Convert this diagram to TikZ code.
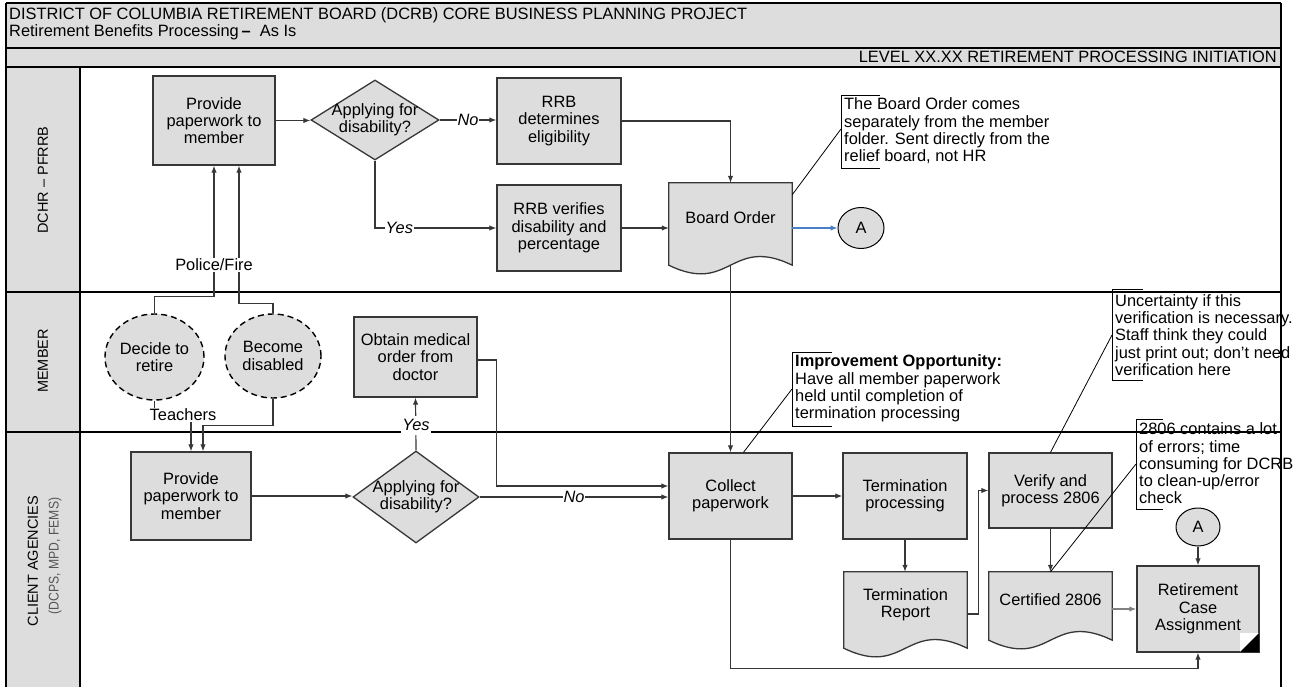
\documentclass[tikz,border=0pt]{standalone}
\usepackage{fontspec}
\setmainfont{Liberation Sans}
\newfontfamily\narrowsans[FakeStretch=0.87]{Liberation Sans}
\usetikzlibrary{shapes.geometric,arrows.meta,calc}
\definecolor{boxgray}{RGB}{221,221,221}
\definecolor{linegray}{RGB}{55,55,55}
\definecolor{lblue}{RGB}{74,126,199}
\definecolor{subgray}{RGB}{85,85,85}
\begin{document}
\begin{tikzpicture}[x=1pt,y=-1pt,
 font=\fontsize{16.4}{17.3}\selectfont,
 proc/.style={draw=linegray,line width=1.3pt,fill=boxgray,align=center,inner sep=0pt},
 dia/.style={diamond,draw=linegray,line width=1.3pt,fill=boxgray,inner sep=0pt},
 txt/.style={align=center,inner sep=0pt},
 ev/.style={ellipse,draw=black,line width=1.4pt,dash pattern=on 6pt off 4pt,fill=boxgray,inner sep=0pt,align=center},
 conn/.style={ellipse,draw=black,line width=1pt,fill=boxgray,inner sep=0pt},
 docbox/.style={draw=none,inner sep=0pt},
 docshape/.style={draw=linegray,line width=1.3pt,fill=boxgray},
 arr/.style={draw=linegray,line width=1.2pt,-{Latex[length=7pt,width=5.5pt]}},
 arrb/.style={draw=lblue,line width=1.1pt,-{Latex[length=7pt,width=5.5pt]}},
 arrg/.style={draw=gray,line width=2pt,-{Latex[length=7pt,width=5.5pt]}},
 lab/.style={fill=white,inner sep=1pt,font=\fontsize{16.4}{17.3}\selectfont\itshape},
 lab2/.style={fill=white,inner sep=1pt},
 annot/.style={align=left,inner sep=0pt,anchor=west},
 brk/.style={draw=black,line width=0.9pt},
 leader/.style={draw=black,line width=0.8pt},
 lane/.style={draw=black,line width=1.2pt},
 lanetxt/.style={rotate=90,inner sep=0pt,font=\fontsize{14.5}{16}\selectfont}
]
\useasboundingbox (0,0) rectangle (1307,687);
\fill[white] (0,0) rectangle (1307,687);
% header and lane column
\fill[boxgray] (6,3) rectangle (1281,67);
\fill[boxgray] (6,67) rectangle (80,687);
\draw[lane] (6,3) -- (1281,3);
\draw[lane] (6,48) -- (1281,48);
\draw[lane,line width=1.6pt] (6,67) -- (1281,67);
\draw[lane] (6,292) -- (1281,292);
\draw[lane] (6,432) -- (1281,432);
\draw[lane] (6,3) -- (6,687);
\draw[lane] (1281,3) -- (1281,687);
\draw[lane] (80,67) -- (80,687);
\node[anchor=west,inner sep=0pt] (t1) at (9,15) {DISTRICT OF COLUMBIA RETIREMENT BOARD (DCRB) CORE BUSINESS PLANNING PROJECT};
\node[anchor=west,inner sep=0pt] (t2) at (9,32) {Retirement Benefits Processing\,\textbf{–}\ \ As Is};
\node[anchor=east,inner sep=0pt] (lvl) at (1277,57) {LEVEL XX.XX RETIREMENT PROCESSING INITIATION};
\node[lanetxt] (l1) at (43,180) {DCHR – PFRRB};
\node[lanetxt] (l2) at (43,361) {MEMBER};
\node[lanetxt] (l3) at (33,561) {CLIENT AGENCIES};
\node[lanetxt,font=\narrowsans\fontsize{14}{16}\selectfont,text=subgray] (l3b) at (55,556) {(DCPS, MPD, FEMS)};

% DCHR lane
\node[proc,minimum width=122,minimum height=89] (p1) at (214,120.5) {Provide\\paperwork to\\member};
\node[dia,minimum width=128,minimum height=80] (d1) at (375,120) {};
\node[txt] (d1t) at (375,120) {Applying for\\disability?};
\node[proc,minimum width=124,minimum height=86] (rrb1) at (559,121) {RRB\\determines\\eligibility};
\node[proc,minimum width=124,minimum height=86] (rrb2) at (559,228) {RRB verifies\\disability and\\percentage};
\node[docbox,minimum width=123,minimum height=82] (bo) at (730.5,224) {};
\draw[docshape] (bo.north west) -- (bo.north east) -- (bo.south east) .. controls ($(bo.south)+(0,-30)$) and ($(bo.south)+(0,30)$) .. (bo.south west) -- cycle;
\node[txt] (bot) at (730.5,218) {Board Order};
\node[conn,minimum width=46,minimum height=41] (A1) at (861,228) {A};

% MEMBER lane
\node[ev,minimum width=99,minimum height=86] (dr) at (154.5,357) {Decide to\\retire};
\node[ev,minimum width=96,minimum height=84] (bd) at (273,356) {Become\\disabled};
\node[proc,minimum width=123,minimum height=80] (om) at (415.5,357) {Obtain medical\\order from\\doctor};

% CLIENT lane
\node[proc,minimum width=120,minimum height=88] (p2) at (191,496) {Provide\\paperwork to\\member};
\node[dia,minimum width=126,minimum height=92] (d2) at (416,497) {};
\node[txt] (d2t) at (416,497) {Applying for\\disability?};
\node[proc,minimum width=123,minimum height=86] (cp) at (730.5,496) {Collect\\paperwork};
\node[proc,minimum width=124,minimum height=86] (tp) at (905,496) {Termination\\processing};
\node[proc,minimum width=123,minimum height=75] (vp) at (1050.5,490.5) {Verify and\\process 2806};
\node[docbox,minimum width=123,minimum height=76] (tr) at (905.5,610) {};
\draw[docshape] (tr.north west) -- (tr.north east) -- (tr.south east) .. controls ($(tr.south)+(0,-30)$) and ($(tr.south)+(0,30)$) .. (tr.south west) -- cycle;
\node[txt] (trt) at (905.5,604.5) {Termination\\Report};
\node[docbox,minimum width=123,minimum height=68] (c2) at (1050.5,606) {};
\draw[docshape] (c2.north west) -- (c2.north east) -- (c2.south east) .. controls ($(c2.south)+(0,-30)$) and ($(c2.south)+(0,30)$) .. (c2.south west) -- cycle;
\node[txt] (c2t) at (1050.5,600) {Certified 2806};
\node[proc,minimum width=122,minimum height=86] (rc) at (1198,609) {Retirement\\Case\\Assignment};
\fill[white] (1240,633) -- (1259,633) -- (1240,652) -- cycle;
\fill[black] (1259,633) -- (1259,652) -- (1240,652) -- cycle;
\node[conn,minimum width=44,minimum height=38] (A2) at (1198,527) {A};

% connectors DCHR
\draw[arr] (p1.east) -- (p1.east -| d1.west);
\draw[arr] (d1.east) -- node[lab]{No} (d1.east -| rrb1.west);
\draw[arr] (d1.south) |- node[lab,pos=0.6]{Yes} (rrb2.west);
\draw[arr] (rrb1.east) -| (bo.north);
\draw[arr] (rrb2.east) -- (rrb2.east -| bo.west);
\draw[arrb] (A1.west -| bo.east) -- (A1.west);
\draw[arr] (bo.south) -- (cp.north);

% member connectors
\draw[arr] (dr.north) -- ++(0,-17) -| (p1.south);
\draw[arr] (bd.north) -- ++(0,-10) -| ($(p1.south)+(25,0)$);
\node[lab2] (pf) at (214,265) {Police/Fire};
\draw[arr] (dr.south) -- ++(0,16) -| (p2.north);
\draw[arr] (bd.south) -- ++(0,27) -| ($(p2.north)+(12,0)$);
\node[lab2] (tch) at (183,415) {Teachers};

% client connectors
\draw[arr] (p2.east) -- (p2.east -| d2.west);
\draw[arr] (d2.north) -- (om.south);
\node[lab,minimum height=19] (yes2) at (416,425) {Yes};
\draw[arr] (d2.east) -- node[lab]{No} (d2.east -| cp.west);
\draw[arr] ($(om.east)+(0,3)$) -- ++(19,0) |- ($(cp.west)+(0,-10)$);
\draw[arr] (cp.east) -- (tp.west);
\draw[arr] (tp.south) -- (tp.south |- tr.north);
\draw[arr] ($(tr.east)+(0,4)$) -- ++(11,0) |- (vp.west);
\draw[arr] (vp.south) -- (c2.north);
\draw[arrg] (c2.east |- rc.west) -- (rc.west);
\draw[arr] (A2.south) -- (rc.north);
\draw[arr] (cp.south) -- ++(0,129) -| (rc.south);

% annotations
\coordinate (b1) at (841,129);
\draw[brk] (880,95) -- (841,95) -- (841,168) -- (880,168);
\node[annot] (a1) at (844,131) {The Board Order comes\\separately from the member\\folder. Sent directly from the\\relief board, not HR};
\draw[leader] ($(bo.north east)+(0,12)$) -- (b1);

\coordinate (b2) at (792,389);
\draw[brk] (832,352) -- (792,352) -- (792,426) -- (832,426);
\node[annot] (a2) at (795,388.5) {\textbf{Improvement Opportunity:}\\Have all member paperwork\\held until completion of\\termination processing};
\draw[leader] (b2) -- ($(cp.north)+(13,0)$);

\coordinate (b3) at (1112,335);
\draw[brk] (1143,289) -- (1112,289) -- (1112,380) -- (1143,380);
\node[annot] (a3) at (1115,335) {Uncertainty if this\\verification is necessary.\\Staff think they could\\just print out; don't need\\verification here};
\draw[leader] (b3) -- (vp.north);

\coordinate (b4) at (1136,464);
\draw[brk] (1163,419) -- (1136,419) -- (1136,509) -- (1163,509);
\node[annot] (a4) at (1139,463.5) {2806 contains a lot\\of errors; time\\consuming for DCRB\\to clean-up/error\\check};
\draw[leader] (b4) -- (c2.north);
\end{tikzpicture}
\end{document}
